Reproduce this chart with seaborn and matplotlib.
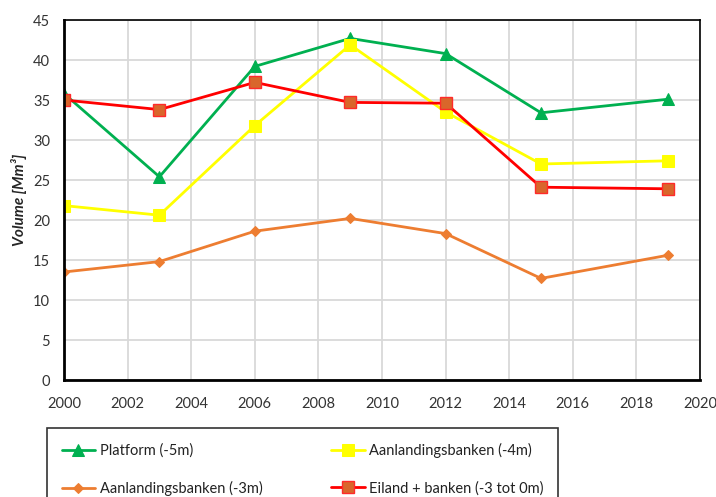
import matplotlib
matplotlib.use("Agg")
import matplotlib.pyplot as plt
import seaborn as sns
import pandas as pd

years = [2000, 2003, 2006, 2009, 2012, 2015, 2019]
platform = [35.8, 25.4, 39.2, 42.7, 40.8, 33.4, 35.1]
aanl_4m = [21.8, 20.6, 31.8, 41.9, 33.5, 27.0, 27.4]
aanl_3m = [13.5, 14.8, 18.6, 20.2, 18.3, 12.7, 15.6]
eiland = [35.0, 33.8, 37.2, 34.7, 34.6, 24.1, 23.9]
labels = ["Platform (-5m)", "Aanlandingsbanken (-4m)",
          "Aanlandingsbanken (-3m)", "Eiland + banken (-3 tot 0m)"]

sns.set_theme(style="whitegrid")
plt.rcParams['font.family'] = ['Lato', 'DejaVu Sans']

fig = plt.figure(figsize=(7.16, 4.97), dpi=100)
ax = fig.add_axes([64/716, (497-380)/497, 636/716, 360/497])

styles = [
    (platform, labels[0], dict(color="#00B050", marker="^", markersize=8, markerfacecolor="#00B050", markeredgecolor="#00B050")),
    (aanl_4m, labels[1], dict(color="#FFFF00", marker="s", markersize=9, markerfacecolor="#FFFF00", markeredgecolor="#FFFF00")),
    (aanl_3m, labels[2], dict(color="#ED7D31", marker="D", markersize=5.5, markerfacecolor="#ED7D31", markeredgecolor="#ED7D31")),
    (eiland, labels[3], dict(color="#FF0000", marker="s", markersize=8, markerfacecolor="#D9662B", markeredgecolor="#FF2A2A", markeredgewidth=1)),
]
for vals, lab, kw in styles:
    df = pd.DataFrame({"year": years, "v": vals})
    sns.lineplot(data=df, x="year", y="v", ax=ax, linewidth=2, label=lab, **kw)

ax.set_xlim(2000, 2020)
ax.set_ylim(0, 45)
ax.set_xticks(range(2000, 2021, 2))
ax.set_yticks(range(0, 46, 5))
ax.grid(True, color="#D9D9D9", linewidth=1.3)
ax.tick_params(length=0, labelsize=10.5, colors="#333333")
ax.tick_params(axis="x", pad=12)
ax.tick_params(axis="y", pad=10)
ax.set_xlabel("")
ax.set_ylabel("Volume [Mm³]", fontsize=11, fontweight="bold", fontstyle="italic", labelpad=4)
for side in ["left", "bottom"]:
    ax.spines[side].set_color("black")
    ax.spines[side].set_linewidth(2)
for side in ["top", "right"]:
    ax.spines[side].set_color("black")
    ax.spines[side].set_linewidth(1.2)

h, l = ax.get_legend_handles_labels()
ax.get_legend().remove()
order = [0, 2, 1, 3]
leg = fig.legend([h[i] for i in order], [l[i] for i in order],
                 loc="upper left", bbox_to_anchor=(47/716, -0.2, 511/716, 1 - 428/497 + 0.2),
                 mode="expand", ncol=2, frameon=True, fancybox=False,
                 edgecolor="black", fontsize=10.5, handlelength=2.3,
                 labelspacing=1.6, borderpad=1.0, handletextpad=0.3,
                 borderaxespad=0)
leg.get_frame().set_linewidth(1.2)
for t in leg.get_texts():
    t.set_color("#222222")

fig.savefig("out.png", dpi=100)
